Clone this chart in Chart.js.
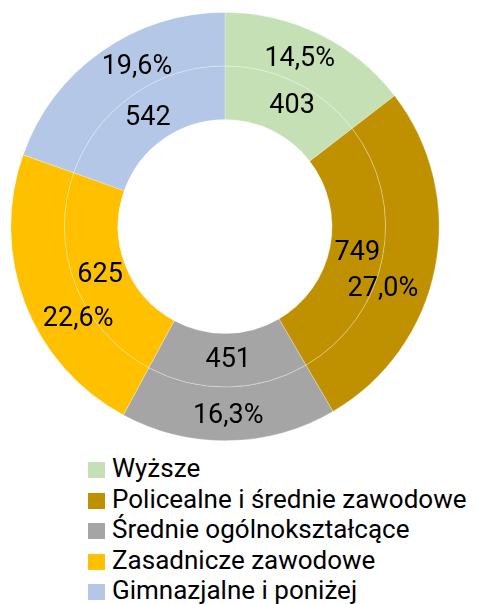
<!DOCTYPE html>
<html>
<head>
<meta charset="utf-8">
<script src="https://cdn.jsdelivr.net/npm/chart.js@4"></script>
<style>
  body { margin: 0; background: #fff; width: 477px; height: 604px; overflow: hidden; font-family: Roboto, sans-serif; }
  #wrap { position: relative; width: 477px; height: 453px; }
  #legend { position: absolute; left: 88px; top: 453px; margin: 0; padding: 0; list-style: none; }
  #legend li { height: 30.5px; line-height: 30.5px; font-size: 26px; color: #000; white-space: nowrap; }
  #legend span.box { display: inline-block; width: 17px; height: 16px; margin-right: 7px; vertical-align: -1px; }
</style>
</head>
<body>
<div id="wrap"><canvas id="chart" width="477" height="453"></canvas></div>
<ul id="legend"></ul>
<script>
// categories + values
const categories = ["Wyższe", "Policealne i średnie zawodowe", "Średnie ogólnokształcące", "Zasadnicze zawodowe", "Gimnazjalne i poniżej"];
const counts = [403, 749, 451, 625, 542];
const colors = ["#C5E0B4", "#BF9000", "#A5A5A5", "#FFC000", "#B4C7E7"];

const total = counts.reduce((a, b) => a + b, 0);
const percents = counts.map(v => (v / total * 100).toFixed(1).replace(".", ",") + "%");

// small nudges for the outer labels (like excel did)
const outerNudge = [[-8, 1], [-26, 27], [0, 2], [28, 25], [20, -6]];
const innerNudge = [[8, 0], [1, 1], [1, 0], [0, 1], [0, 1]];

const arcLabels = {
  id: "arcLabels",
  afterDatasetsDraw(chart) {
    const ctx = chart.ctx;
    ctx.save();
    ctx.font = "27px Roboto";
    ctx.fillStyle = "#000";
    ctx.textAlign = "center";
    ctx.textBaseline = "middle";
    chart.data.datasets.forEach((ds, di) => {
      const meta = chart.getDatasetMeta(di);
      meta.data.forEach((arc, i) => {
        const p = arc.tooltipPosition();
        const n = di === 0 ? outerNudge[i] : innerNudge[i];
        const txt = di === 0 ? percents[i] : String(counts[i]);
        ctx.fillText(txt, p.x + n[0], p.y + n[1]);
      });
    });
    ctx.restore();
  }
};

const chart = new Chart(document.getElementById("chart"), {
  type: "doughnut",
  data: {
    labels: categories,
    datasets: [
      { data: counts, backgroundColor: colors, borderColor: "rgba(255,255,255,0.35)", borderWidth: 0.75 },
      { data: counts, backgroundColor: colors, borderColor: "rgba(255,255,255,0.35)", borderWidth: 0.75 }
    ]
  },
  options: {
    responsive: false,
    animation: false,
    cutout: "50%",
    layout: { padding: { top: 12, bottom: 12, left: 0, right: 27 } },
    plugins: {
      legend: { display: false },
      tooltip: { enabled: false }
    }
  },
  plugins: [arcLabels]
});

// legend
const ul = document.getElementById("legend");
categories.forEach((c, i) => {
  const li = document.createElement("li");
  li.innerHTML = `<span class="box" style="background:${colors[i]}"></span>${c}`;
  ul.appendChild(li);
});
</script>
</body>
</html>
